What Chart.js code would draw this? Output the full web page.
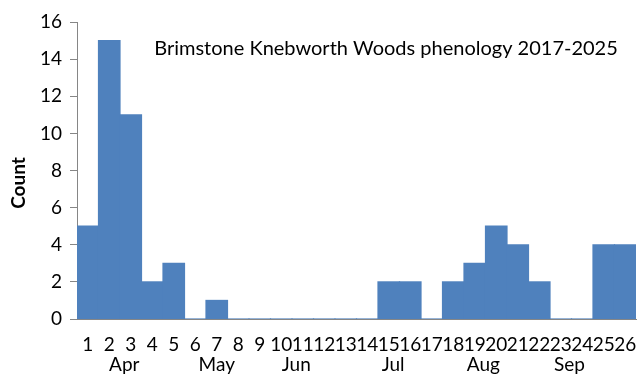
<!DOCTYPE html>
<html>
<head>
<meta charset="utf-8">
<script src="https://cdn.jsdelivr.net/npm/chart.js@4/dist/chart.umd.min.js"></script>
<style>
  html, body { margin: 0; padding: 0; background: #fff; }
  #wrap { width: 644px; height: 382px; }
</style>
</head>
<body>
<div id="wrap"><canvas id="myChart" width="644" height="382"></canvas></div>
<script>
// week numbers (since 1 Apr) and counts, 2017-2025
var weeks = ["1","2","3","4","5","6","7","8","9","10","11","12","13","14","15","16","17","18","19","20","21","22","23","24","25","26"];
var counts = [5, 15, 11, 2, 3, 0, 1, 0, 0, 0, 0, 0, 0, 0, 2, 2, 0, 2, 3, 5, 4, 2, 0, 0, 4, 4];
var months = ["Apr", "May", "Jun", "Jul", "Aug", "Sep"];
// where each month name sits, in week-index units
var monthAt = [1.7, 6, 9.7, 14.2, 18.4, 22.4];
var yTicks = [0, 2, 4, 6, 8, 10, 12, 14, 16];

var chartTitle = "Brimstone Knebworth Woods phenology 2017-2025";
var font = "Lato, 'Open Sans', sans-serif";

var extras = {
    id: "extras",
    afterDraw: function(chart) {
        var c = chart.ctx;
        var x = chart.scales.x;
        c.save();
        c.fillStyle = "#000";
        c.font = "19px " + font;
        c.textAlign = "center";
        c.textBaseline = "middle";
        for (var i = 0; i < months.length; i++) {
            c.fillText(months[i], x.getPixelForValue(monthAt[i]), 365);
        }
        c.font = "20px " + font;
        c.fillText(chartTitle, 386, 49);
        c.translate(19, 183);
        c.rotate(-Math.PI / 2);
        c.font = "bold 19px " + font;
        c.fillText("Count", 0, 0);
        c.restore();
    }
};

new Chart(document.getElementById("myChart").getContext("2d"), {
    type: "bar",
    data: {
        labels: weeks,
        datasets: [{
            data: counts,
            backgroundColor: "#4F81BD",
            borderWidth: 0,
            inflateAmount: 0.6,
            barPercentage: 1,
            categoryPercentage: 1
        }]
    },
    options: {
        responsive: false,
        animation: false,
        layout: { padding: { left: 0, right: 8, top: 22, bottom: 0 } },
        plugins: {
            legend: { display: false },
            tooltip: { enabled: false }
        },
        scales: {
            x: {
                grid: { display: true, drawOnChartArea: false, drawTicks: false },
                border: { color: "#868686", width: 1 },
                ticks: {
                    color: "#000",
                    font: { family: font, size: 19 },
                    padding: 14,
                    maxRotation: 0,
                    autoSkip: false
                },
                afterFit: function(s) { s.height = 63; s.paddingRight = 0; }
            },
            y: {
                min: 0,
                max: 16,
                afterBuildTicks: function(s) {
                    s.ticks = yTicks.map(function(v) { return { value: v }; });
                },
                grid: { display: true, drawOnChartArea: false, drawTicks: true, tickLength: 7, color: "#868686" },
                border: { color: "#868686", width: 1 },
                ticks: {
                    color: "#000",
                    font: { family: font, size: 19 },
                    padding: 8
                },
                afterFit: function(s) { s.width = 77; s.paddingTop = 0; }
            }
        }
    },
    plugins: [extras]
});
</script>
</body>
</html>
